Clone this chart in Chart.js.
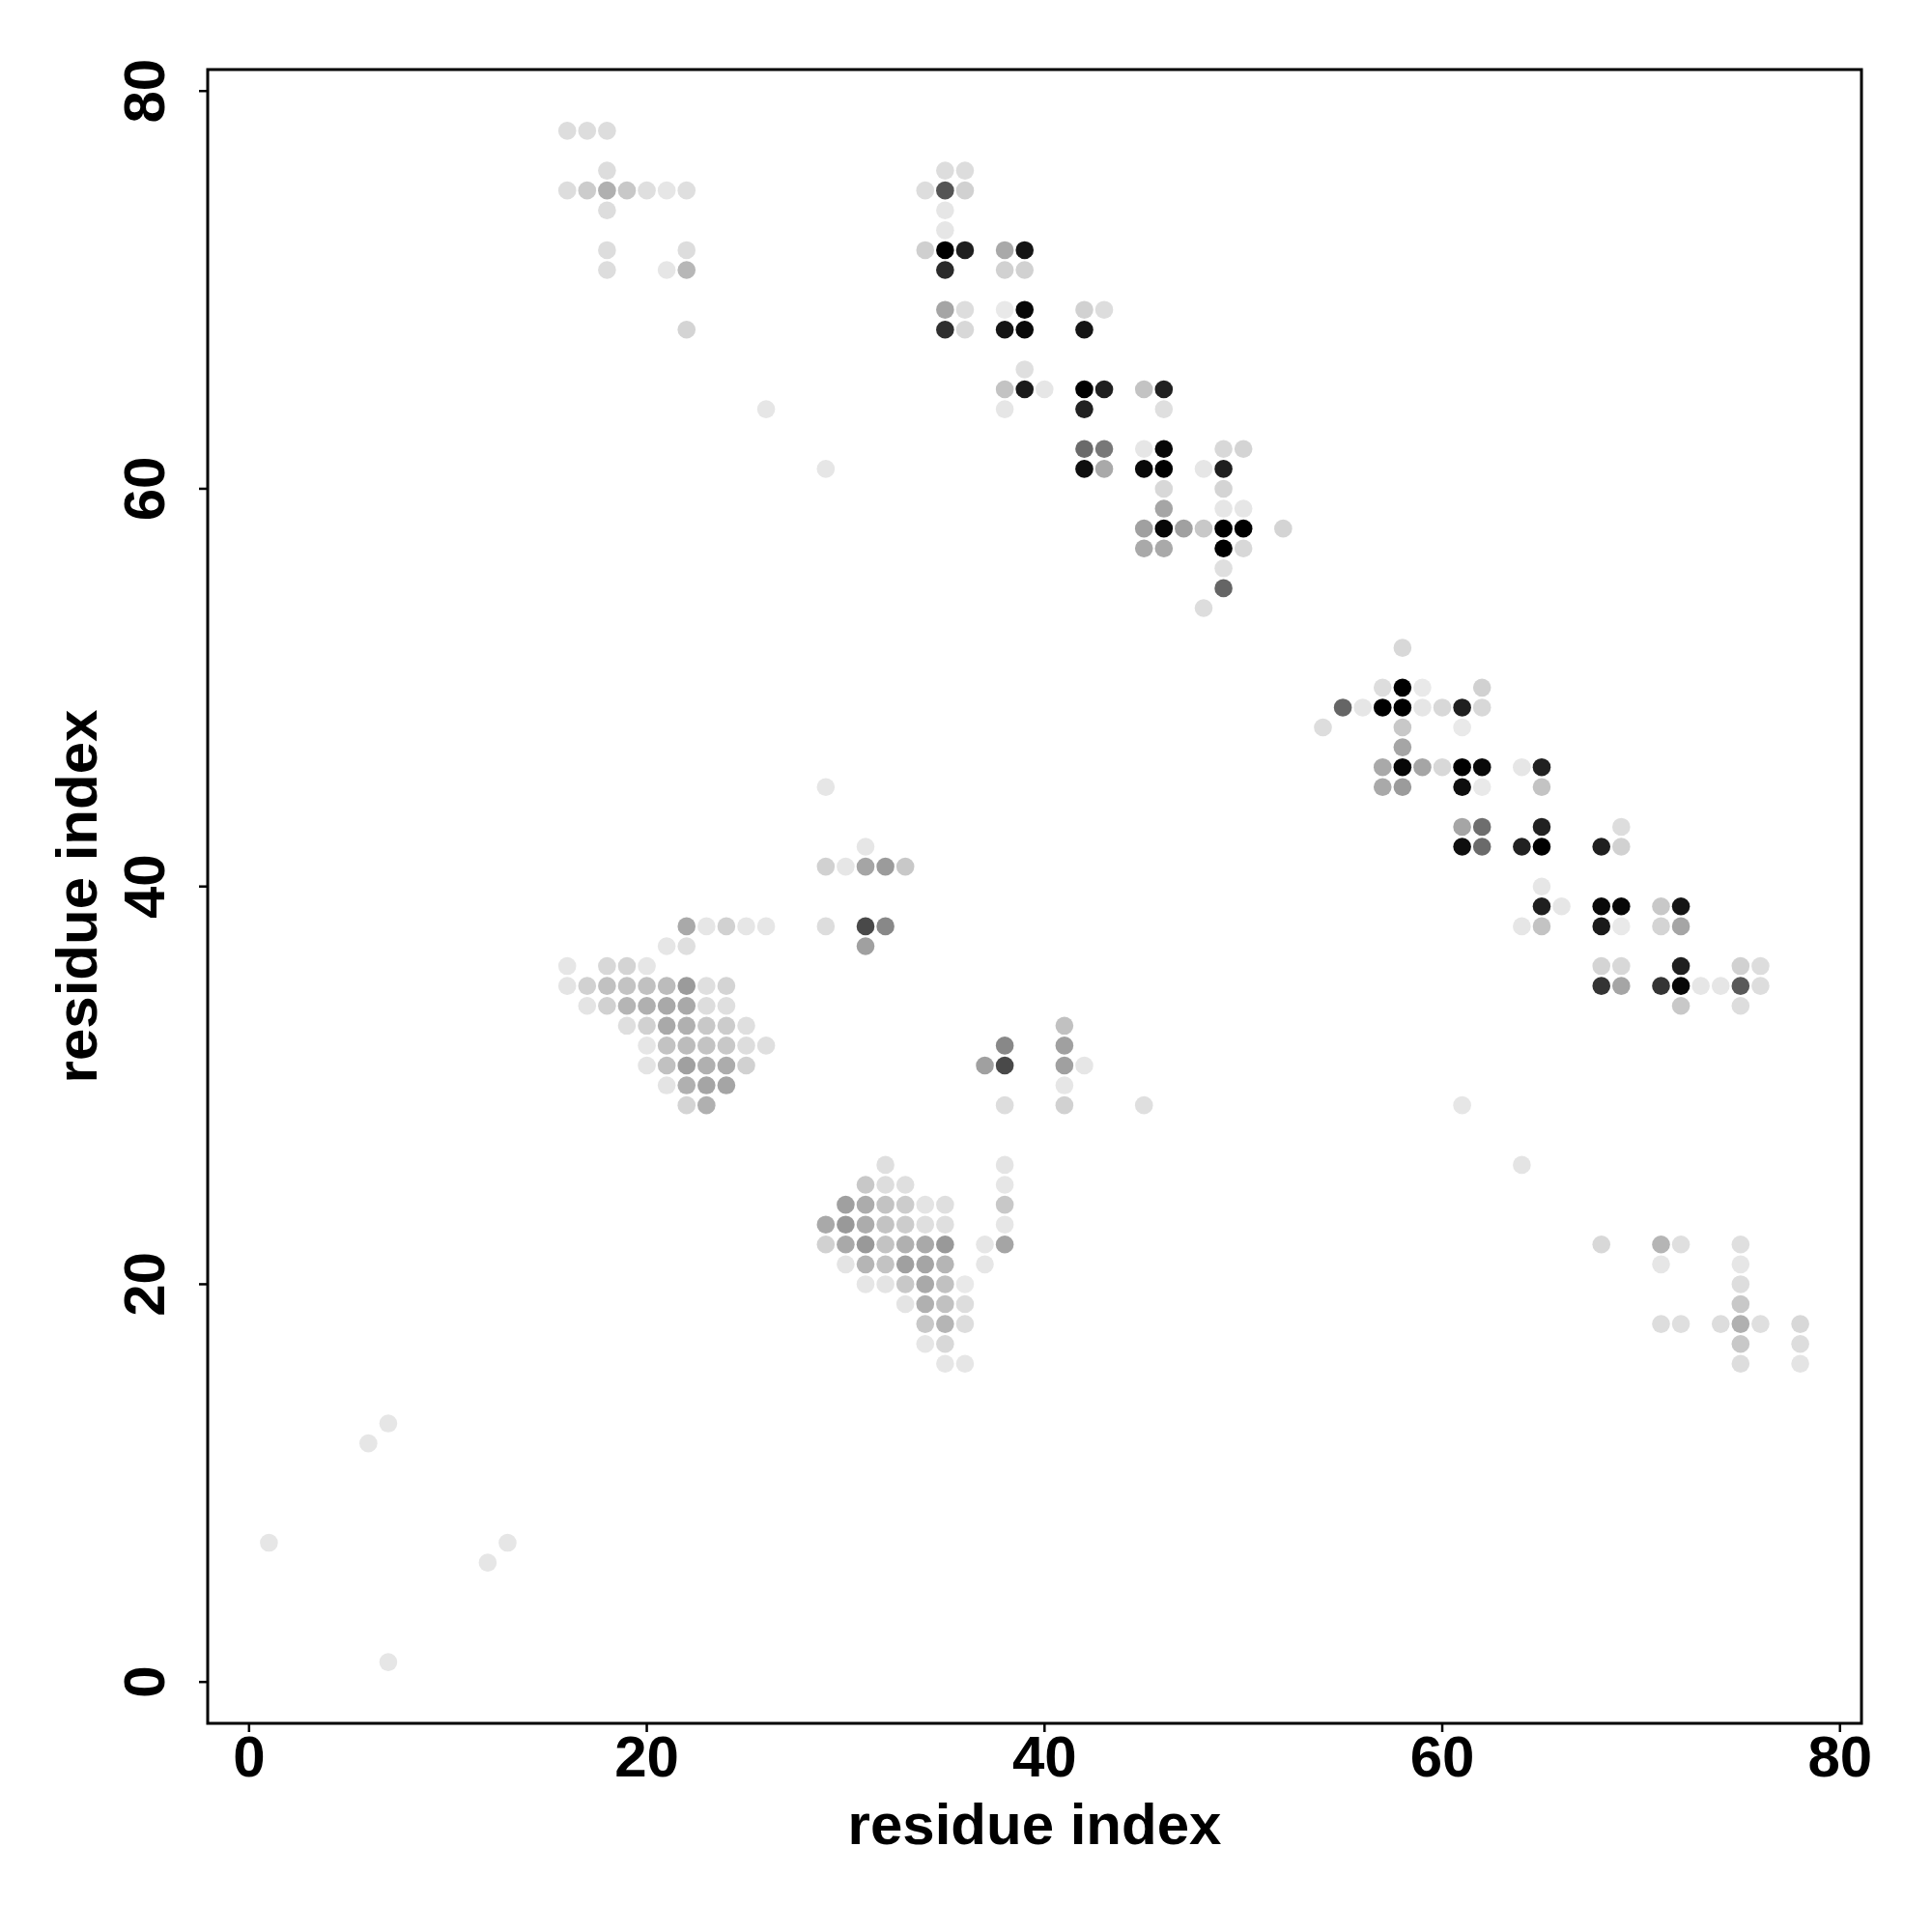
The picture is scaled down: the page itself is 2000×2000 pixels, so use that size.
<!DOCTYPE html>
<html lang="en">

<head>
    <meta charset="UTF-8">
    <script src="https://cdn.jsdelivr.net/npm/chart.js"></script>
    <title>Contact map</title>
</head>

<style>
    body {
        margin: 0;
        background: #fff;
    }

    .chart-container {
        width: 2000px;
        height: 2000px;
    }
</style>

<body>
<div class="chart-container">
    <canvas id="contact-map" width="2000" height="2000"></canvas>
</div>

<script>
    // residue pairs (x = residue i, y = residue j) and contact strength (0..1)
    const resI = [
        1, 6, 7, 7, 12, 13,
        16, 17, 18, 18,
        16, 17, 18, 19, 20, 21, 22,
        18, 18, 22, 18, 21, 22, 22,
        26, 29,
        35, 36, 34, 35, 36, 35, 35,
        34, 35, 36, 38, 39,
        35, 38, 39,
        35, 36, 38, 39, 42, 43,
        35, 36, 38, 39, 42,
        39,
        38, 39, 40, 42, 43, 45, 46,
        38, 42, 46,
        42, 43, 45, 46, 49, 50,
        42, 43, 45, 46, 48, 49,
        46, 49, 46, 49, 50,
        45, 46, 47, 48, 49, 50, 52,
        45, 46, 49, 50,
        49, 49, 48,
        58, 57, 58, 59, 62,
        55, 56, 57, 58, 59, 60, 61, 62,
        54, 58, 61, 58,
        57, 58, 59, 60, 61, 62, 64, 65,
        57, 58, 61, 62, 65,
        61, 62, 65, 69,
        61, 62, 64, 65, 68, 69,
        65,
        65, 66, 68, 69, 71, 72,
        64, 65, 68, 69, 71, 72,
        68, 69, 72, 75, 76,
        68, 69, 71, 72, 73, 74, 75, 76,
        72, 75,
        22, 23, 24, 25, 26,
        21, 22, 16, 18, 19, 20,
        16, 17, 18, 19, 20, 21, 22, 23, 24,
        17, 18, 19, 20, 21, 22, 23, 24,
        19, 20, 21, 22, 23, 24, 25,
        20, 21, 22, 23, 24, 25, 26,
        20, 21, 22, 23, 24, 25,
        21, 22, 23, 24, 22, 23,
        29, 31,
        29, 30, 31, 32, 33,
        29, 31, 32, 31,
        41, 38, 41,
        37, 38, 41, 42, 41,
        38, 41, 45,
        32, 38, 31, 32, 33, 38,
        30, 31, 32, 33, 34, 35, 38,
        29, 30, 31, 32, 33, 34, 35, 38,
        29, 30, 31, 32, 33, 34, 35, 37, 38,
        30, 31, 32, 33, 34, 35, 37,
        31, 32, 33, 34, 35, 36,
        33, 34, 35, 36,
        34, 35, 36, 34, 35, 35, 36,
        61, 64,
        68, 71, 72, 75, 71, 75,
        75, 75,
        71, 72, 74, 75, 76, 78,
        75, 78, 75, 78
    ];
    const resJ = [
        7, 12, 13, 1, 6, 7,
        78, 78, 78, 76,
        75, 75, 75, 75, 75, 75, 75,
        74, 72, 72, 71, 71, 71, 68,
        64, 61,
        76, 76, 75, 75, 75, 74, 73,
        72, 72, 72, 72, 72,
        71, 71, 71,
        69, 69, 69, 69, 69, 69,
        68, 68, 68, 68, 68,
        66,
        65, 65, 65, 65, 65, 65, 65,
        64, 64, 64,
        62, 62, 62, 62, 62, 62,
        61, 61, 61, 61, 61, 61,
        60, 60, 59, 59, 59,
        58, 58, 58, 58, 58, 58, 58,
        57, 57, 57, 57,
        56, 55, 54,
        52, 50, 50, 50, 50,
        49, 49, 49, 49, 49, 49, 49, 49,
        48, 48, 48, 47,
        46, 46, 46, 46, 46, 46, 46, 46,
        45, 45, 45, 45, 45,
        43, 43, 43, 43,
        42, 42, 42, 42, 42, 42,
        40,
        39, 39, 39, 39, 39, 39,
        38, 38, 38, 38, 38, 38,
        36, 36, 36, 36, 36,
        35, 35, 35, 35, 35, 35, 35, 35,
        34, 34,
        38, 38, 38, 38, 38,
        37, 37, 36, 36, 36, 36,
        35, 35, 35, 35, 35, 35, 35, 35, 35,
        34, 34, 34, 34, 34, 34, 34, 34,
        33, 33, 33, 33, 33, 33, 33,
        32, 32, 32, 32, 32, 32, 32,
        31, 31, 31, 31, 31, 31,
        30, 30, 30, 30, 29, 29,
        45, 42,
        41, 41, 41, 41, 41,
        38, 38, 38, 37,
        33, 32, 32,
        31, 31, 31, 31, 30,
        29, 29, 29,
        26, 26, 25, 25, 25, 25,
        24, 24, 24, 24, 24, 24, 24,
        23, 23, 23, 23, 23, 23, 23, 23,
        22, 22, 22, 22, 22, 22, 22, 22, 22,
        21, 21, 21, 21, 21, 21, 21,
        20, 20, 20, 20, 20, 20,
        19, 19, 19, 19,
        18, 18, 18, 17, 17, 16, 16,
        29, 26,
        22, 22, 22, 22, 21, 21,
        20, 19,
        18, 18, 18, 18, 18, 18,
        17, 17, 16, 16
    ];
    const prob = [
        .02, .02, .02, .02, .02, .02,
        .06, .06, .06, .06,
        .06, .13, .25, .15, .05, .02, .05,
        .06, .06, .06, .06, .02, .22, .10,
        .02, .02,
        .06, .06, .06, .64, .11, .02, .02,
        .12, 1, .87, .28, .91,
        .82, .11, .11,
        .30, .06, .01, .97, .11, .06,
        .80, .08, .91, .96, .91,
        .05,
        .17, .89, .02, 1, .87, .17, .86,
        .02, .86, .05,
        .55, .49, .02, .97, .08, .10,
        .94, .28, .96, 1, .02, .87,
        .08, .10, .30, .02, .02,
        .32, .97, .32, .15, 1, 1, .10,
        .28, .28, 1, .08,
        .05, .57, .06,
        .08, .06, 1, .01, .11,
        .57, .02, 1, 1, .02, .08, .87, .08,
        .06, .15, .01, .30,
        .28, .97, .30, .08, 1, .96, .02, .86,
        .28, .34, .94, .01, .17,
        .30, .53, .86, .06,
        .94, .55, .86, 1, .87, .11,
        .02,
        .87, .02, .96, .97, .15, .91,
        .02, .17, .89, .01, .10, .30,
        .10, .08, .87, .11, .06,
        .78, .30, .78, .97, .02, .02, .62, .06,
        .15, .06,
        .28, .02, .11, .02, .02,
        .02, .05, .02, .08, .10, .02,
        .03, .11, .18, .17, .18, .20, .34, .05, .10,
        .03, .11, .23, .25, .28, .28, .06, .05,
        .05, .11, .28, .25, .15, .13, .05,
        .02, .17, .20, .17, .15, .06, .05,
        .03, .18, .32, .25, .27, .11,
        .03, .25, .30, .30, .10, .25,
        .02, .02,
        .11, .02, .30, .34, .15,
        .06, .69, .42, .32,
        .18, .42, .32,
        .32, .69, .32, .02, .02,
        .06, .11, .05,
        .05, .03, .15, .06, .05, .02,
        .32, .27, .17, .13, .03, .05, .15,
        .28, .35, .27, .17, .13, .05, .05, .02,
        .11, .28, .35, .17, .25, .28, .35, .02, .30,
        .03, .23, .17, .32, .30, .23, .02,
        .02, .03, .15, .28, .18, .01,
        .03, .25, .18, .06,
        .15, .23, .06, .02, .08, .02, .02,
        .02, .03,
        .08, .23, .05, .05, .02, .02,
        .06, .15,
        .06, .05, .06, .25, .05, .08,
        .15, .06, .06, .03
    ];
    const tickValues = [0, 20, 40, 60, 80];
    const axisTitle = 'residue index';

    const FONT = 'bold 60px "Liberation Sans", Arial, sans-serif';

    // darker = stronger contact
    function shade(p) {
        const g = Math.round(235 * (1 - p));
        return `rgb(${g},${g},${g})`;
    }

    const points = resI.map((x, k) => ({x: x, y: resJ[k]}));

    // R-style box, outward ticks, rotated y labels
    const baseAxes = {
        id: 'baseAxes',
        afterDraw(chart) {
            const {ctx, chartArea: a, scales: {x, y}} = chart;
            ctx.save();
            ctx.strokeStyle = '#000';
            ctx.fillStyle = '#000';
            ctx.lineWidth = 3;
            ctx.strokeRect(a.left, a.top, a.right - a.left, a.bottom - a.top);

            ctx.lineWidth = 2.5;
            ctx.font = FONT;
            tickValues.forEach(v => {
                const px = x.getPixelForValue(v);
                ctx.beginPath();
                ctx.moveTo(px, a.bottom);
                ctx.lineTo(px, a.bottom + 9);
                ctx.stroke();
                ctx.textAlign = 'center';
                ctx.textBaseline = 'alphabetic';
                ctx.fillText(String(v), px, 1839);

                const py = y.getPixelForValue(v);
                ctx.beginPath();
                ctx.moveTo(a.left - 9, py);
                ctx.lineTo(a.left, py);
                ctx.stroke();
                ctx.save();
                ctx.translate(170, py);
                ctx.rotate(-Math.PI / 2);
                ctx.fillText(String(v), 0, 0);
                ctx.restore();
            });

            ctx.textAlign = 'center';
            ctx.textBaseline = 'alphabetic';
            ctx.fillText(axisTitle, (a.left + a.right) / 2, 1909);
            ctx.save();
            ctx.translate(100, (a.top + a.bottom) / 2);
            ctx.rotate(-Math.PI / 2);
            ctx.fillText(axisTitle, 0, 0);
            ctx.restore();
            ctx.restore();
        }
    };

    new Chart(document.getElementById('contact-map'), {
        type: 'scatter',
        data: {
            datasets: [{
                data: points,
                pointRadius: 9.3,
                pointHoverRadius: 9.3,
                borderWidth: 0,
                backgroundColor: c => shade(prob[c.dataIndex]),
                pointBorderColor: 'rgba(0,0,0,0)'
            }]
        },
        options: {
            responsive: false,
            animation: false,
            devicePixelRatio: 1,
            layout: {
                padding: {left: 215, top: 72, right: 73, bottom: 216}
            },
            plugins: {
                legend: {display: false},
                tooltip: {enabled: false}
            },
            scales: {
                x: {type: 'linear', min: -2.08, max: 81.08, display: false},
                y: {type: 'linear', min: -2.08, max: 81.08, display: false}
            }
        },
        plugins: [baseAxes]
    });
</script>
</body>

</html>
